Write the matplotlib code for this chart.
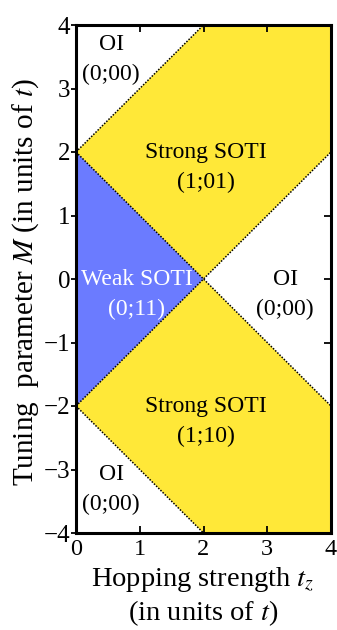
import matplotlib
matplotlib.use("Agg")
import matplotlib.pyplot as plt
from matplotlib.patches import Polygon

plt.rcParams['font.family'] = ['Liberation Serif', 'DejaVu Serif']
plt.rcParams['mathtext.fontset'] = 'stix'

# phase regions (tz, M)
upper_soti = [(0, 2), (2, 4), (4, 4), (4, 2), (2, 0)]
lower_soti = [(0, -2), (2, 0), (4, -2), (4, -4), (2, -4)]
weak_soti = [(0, 2), (2, 0), (0, -2)]
region_labels = ["OI\n(0;00)", "Strong SOTI\n(1;01)", "Weak SOTI\n(0;11)",
                 "OI\n(0;00)", "Strong SOTI\n(1;10)", "OI\n(0;00)"]
label_pos = [(0.55, 3.45), (2.04, 1.75), (0.95, -0.25), (3.28, -0.25), (2.04, -2.25), (0.55, -3.32)]
label_colors = ['black', 'black', 'white', 'black', 'black', 'black']
xticks = [0, 1, 2, 3, 4]
yticks = [-4, -3, -2, -1, 0, 1, 2, 3, 4]

W, H = 337, 630
fig = plt.figure(figsize=(W / 100, H / 100), dpi=100)
ax = fig.add_axes([76 / W, 1 - 533 / H, (331 - 76) / W, (533 - 25) / H])

yellow = '#FFE838'
blue = '#6B7BFF'
ax.add_patch(Polygon(upper_soti, closed=True, facecolor=yellow, edgecolor='none', zorder=1))
ax.add_patch(Polygon(lower_soti, closed=True, facecolor=yellow, edgecolor='none', zorder=1))
ax.add_patch(Polygon(weak_soti, closed=True, facecolor=blue, edgecolor='none', zorder=1))

# dotted boundaries
dot = (0, (1, 1))
ax.plot([0, 2], [2, 4], ls=dot, color='black', lw=1.1, zorder=2)
ax.plot([0, 2], [-2, -4], ls=dot, color='black', lw=1.1, zorder=2)
ax.plot([0, 4], [2, -2], ls=dot, color='black', lw=1.1, zorder=2)
ax.plot([0, 4], [-2, 2], ls=dot, color='black', lw=1.1, zorder=2)

for txt, (x, y), c in zip(region_labels, label_pos, label_colors):
    ax.text(x, y, txt, ha='center', va='center', fontsize=17, color=c, linespacing=1.55, zorder=3)

ax.set_xlim(0, 4)
ax.set_ylim(-4, 4)
ax.set_xticks(xticks)
ax.set_yticks(yticks)
ax.set_xticklabels([str(v) for v in xticks])
ax.set_yticklabels([str(v) if v >= 0 else '\u2212' + str(-v) for v in yticks])
ax.tick_params(axis='x', direction='in', top=True, length=5, width=1.3, labelsize=17.5, pad=4.5)
ax.tick_params(axis='y', direction='out', right=False, length=3.5, width=1.3, labelsize=18, pad=0.5)
ax2 = ax.secondary_yaxis('right')
ax2.set_yticks(yticks)
ax2.tick_params(direction='in', length=5, width=1.3, labelright=False)
ax2.spines['right'].set_linewidth(0)
for s in ax.spines.values():
    s.set_linewidth(2.2)

fig.text(203 / W, 1 - 586 / H, "Hopping strength $t_z$", ha='center', va='baseline', fontsize=20.5)
fig.text(203 / W, 1 - 620 / H, "(in units of $t$)", ha='center', va='baseline', fontsize=20.5)
fig.text(26 / W, 1 - 282 / H, "Tuning  parameter $M$ (in units of $t$)", rotation=90,
         ha='center', va='center', fontsize=21)

fig.savefig("out.png", dpi=100)
